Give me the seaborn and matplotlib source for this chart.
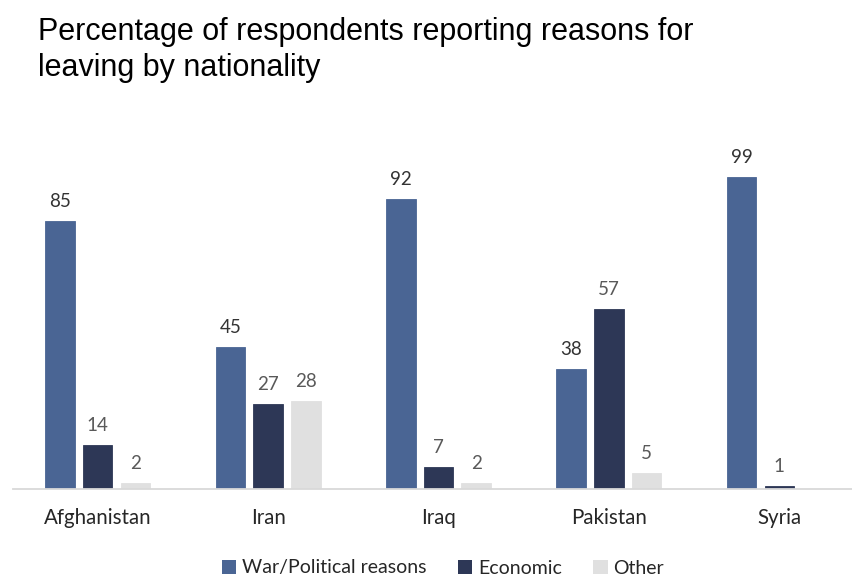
import matplotlib
matplotlib.use("Agg")
import matplotlib.pyplot as plt
from matplotlib import font_manager
from matplotlib.patches import Patch
import seaborn as sns
import pandas as pd

# Survey shares (%) of respondents by reason for leaving
nationalities = ["Afghanistan", "Iran", "Iraq", "Pakistan", "Syria"]
reasons = ["War/Political reasons", "Economic", "Other"]
war_political = [85, 45, 92, 38, 99]
economic = [14, 27, 7, 57, 1]
other = [2, 28, 2, 5, 0]

colors = ["#4a6594", "#2d3756", "#e0e0e0"]
label_colors = ["#333333", "#595959", "#595959"]

rows = []
for reason, vals in zip(reasons, [war_political, economic, other]):
    for nat, v in zip(nationalities, vals):
        rows.append({"Nationality": nat, "Reason": reason, "Percent": v})
df = pd.DataFrame(rows)

sns.set_theme(style="white")
available = {f.name for f in font_manager.fontManager.ttflist}
body_font = "Lato" if "Lato" in available else "DejaVu Sans"
if "Liberation Sans Narrow" in available:
    title_font, title_size = "Liberation Sans Narrow", 24
else:
    title_font, title_size = "Liberation Sans", 22
plt.rcParams["font.family"] = [body_font, "DejaVu Sans"]

fig = plt.figure(figsize=(8.53, 5.76), dpi=100)
ax = fig.add_axes([12.5 / 853, 87 / 576, 852 / 853, 315.2 / 576])

sns.barplot(
    data=df, x="Nationality", y="Percent", hue="Reason",
    order=nationalities, hue_order=reasons, palette=colors,
    width=0.663, gap=0.217, saturation=1, legend=False, ax=ax,
    edgecolor=None, linewidth=0,
)

for container, lc in zip(ax.containers, label_colors):
    for bar in container:
        bar.set_edgecolor(bar.get_facecolor())
        bar.set_linewidth(0.6)
    labels = [f"{v:g}" if v > 0 else "" for v in container.datavalues]
    ax.bar_label(container, labels=labels, padding=8, fontsize=13.5,
                 color=lc)

ax.set_xlim(-0.5, 4.5)
ax.set_ylim(0, 100)
ax.set_xlabel("")
ax.set_ylabel("")
ax.set_yticks([])
for side in ["left", "right", "top"]:
    ax.spines[side].set_visible(False)
ax.spines["bottom"].set_color("#d9d9d9")
ax.spines["bottom"].set_linewidth(1.3)
ax.tick_params(axis="x", length=0, pad=14, labelsize=14.8, labelcolor="#262626")

fig.text(38 / 853, 1 - 17 / 576,
         "Percentage of respondents reporting reasons for\nleaving by nationality",
         ha="left", va="top", fontsize=title_size, family=title_font,
         color="#000000", linespacing=1.28)

handles = [Patch(facecolor=c, edgecolor="none") for c in colors]
fig.legend(handles, reasons, loc="center", bbox_to_anchor=(443 / 853, 1 - 568 / 576),
           ncol=3, frameon=False, fontsize=14, handlelength=0.75, handleheight=0.75,
           handletextpad=0.3, columnspacing=1.6, labelcolor="#262626")

fig.savefig("out.png", dpi=100)
